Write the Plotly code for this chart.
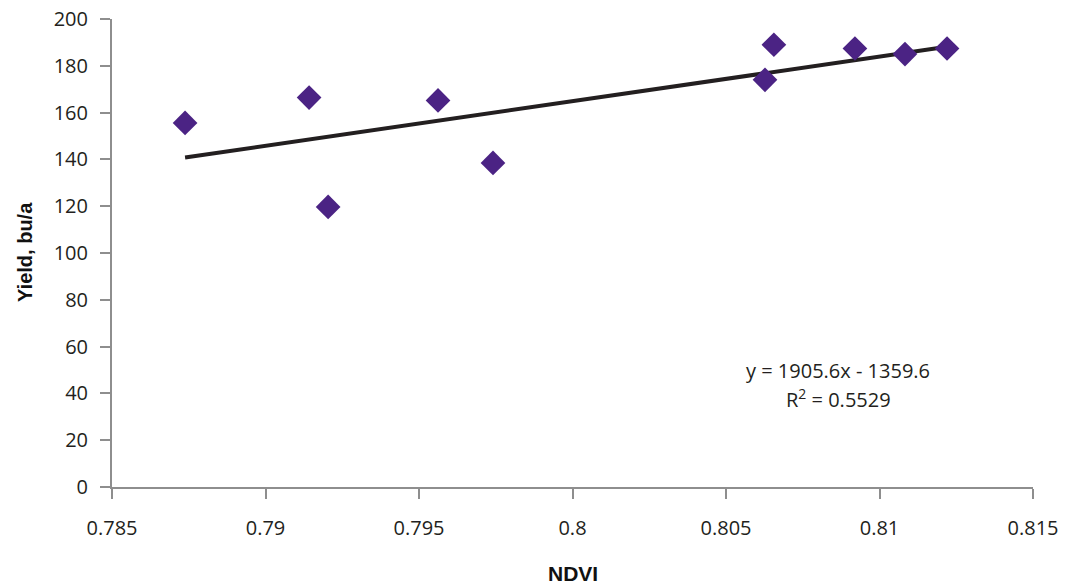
import plotly.graph_objects as go

ndvi = [0.78738, 0.79142, 0.79204, 0.79562, 0.79741, 0.80627, 0.80656, 0.80920, 0.81083, 0.81220]
yield_bu = [155.6, 166.4, 119.7, 165.2, 138.5, 174.0, 189.0, 187.4, 185.0, 187.4]
slope = 1905.6
intercept = -1359.6
r2 = 0.5529
x_ticks = [0.785, 0.79, 0.795, 0.8, 0.805, 0.81, 0.815]
x_tick_text = ["0.785", "0.79", "0.795", "0.8", "0.805", "0.81", "0.815"]
y_ticks = [0, 20, 40, 60, 80, 100, 120, 140, 160, 180, 200]

FONT = "Open Sans"
TITLE_FONT = "Liberation Sans"
W, H = 1065, 588
L, R, T, B = 112, 32, 19, 101

xmin, xmax = min(ndvi), max(ndvi)
trend_x = [xmin, xmax]
trend_y = [slope * v + intercept for v in trend_x]

fig = go.Figure()
fig.add_trace(go.Scatter(x=trend_x, y=trend_y, mode="lines",
                         line=dict(color="#231F20", width=4), hoverinfo="skip"))
fig.add_trace(go.Scatter(x=ndvi, y=yield_bu, mode="markers",
                         marker=dict(symbol="diamond", size=19, color="#4B2384",
                                     line=dict(width=0))))

axis_common = dict(showgrid=False, zeroline=False, showline=True, linecolor="#8E8E8E",
                   linewidth=2, ticks="outside", ticklen=10, tickwidth=2, tickcolor="#8E8E8E",
                   automargin=False,
                   tickfont=dict(family=FONT, size=20, color="#231F20"))

pw = W - L - R
ph = H - T - B


def px_x(v):
    return (v - L) / pw


def px_y(v):
    return (H - B - v) / ph


fig.update_layout(
    width=W, height=H,
    margin=dict(l=L, r=R, t=T, b=B, autoexpand=False),
    paper_bgcolor="white", plot_bgcolor="white",
    showlegend=False,
    font=dict(family=FONT, size=20, color="#231F20"),
    xaxis=dict(range=[0.785, 0.815], tickvals=x_ticks, ticktext=x_tick_text,
               ticklabelstandoff=12, **axis_common),
    yaxis=dict(range=[0, 200], tickvals=y_ticks, ticklabelstandoff=8, **axis_common),
    annotations=[
        dict(x=px_x(838), y=px_y(370), xref="paper", yref="paper", showarrow=False,
             xanchor="center", yanchor="middle",
             text=f"y = {slope}x - {abs(intercept)}",
             font=dict(family=FONT, size=20, color="#231F20")),
        dict(x=px_x(838), y=px_y(398), xref="paper", yref="paper", showarrow=False,
             xanchor="center", yanchor="middle",
             text=f"R<sup>2</sup> = {r2}",
             font=dict(family=FONT, size=20, color="#231F20")),
        dict(x=px_x(573), y=px_y(573), xref="paper", yref="paper", showarrow=False,
             xanchor="center", yanchor="middle",
             text="<b>NDVI</b>", font=dict(family=TITLE_FONT, size=21, color="#111111")),
        dict(x=px_x(25), y=px_y(252), xref="paper", yref="paper", showarrow=False,
             xanchor="center", yanchor="middle",
             text="<b>Yield, bu/a</b>", textangle=-90,
             font=dict(family=TITLE_FONT, size=20, color="#111111")),
    ]
)

fig.write_html("out.html", config={"displayModeBar": False},
               post_script="document.body.style.margin='0';")
